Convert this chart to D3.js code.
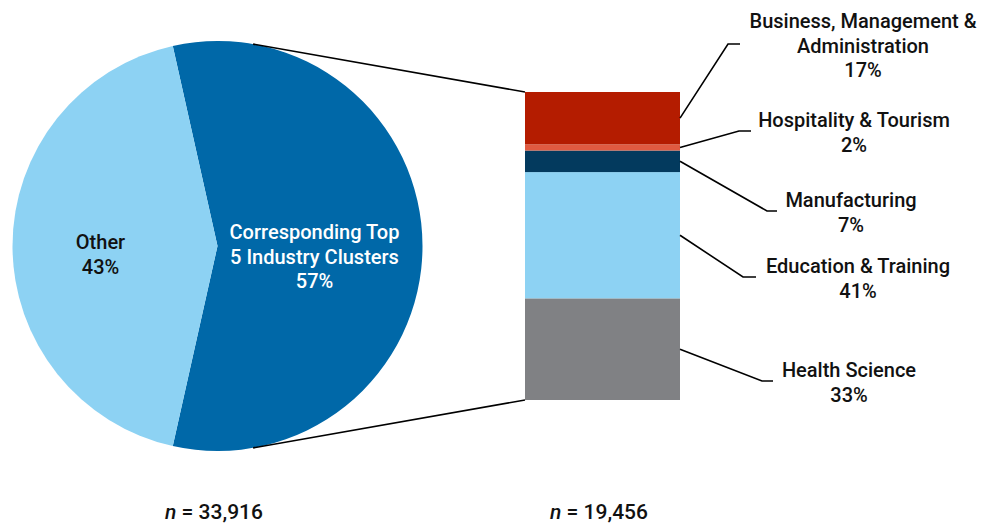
<!DOCTYPE html>
<html>
<head>
<meta charset="utf-8">
<script src="https://cdn.jsdelivr.net/npm/d3@7"></script>
<style>
  html, body { margin: 0; padding: 0; background: #fff; }
  svg { display: block; }
  text { font-family: "Roboto", "Liberation Sans", sans-serif; font-size: 20px; font-weight: 500; fill: #111; }
</style>
</head>
<body>
<svg id="chart" width="985" height="525"></svg>
<script>
// Overall split of enrollments
const pieCategories = ["Corresponding Top 5 Industry Clusters", "Other"];
const pieLabelLines = [["Corresponding Top", "5 Industry Clusters"], ["Other"]];
const pieValues = [57, 43];
const pieColors = ["#0068a8", "#8dd2f3"];

// Breakdown of the top 5 clusters, stacked from the bottom up
const barCategories = ["Health Science", "Education & Training", "Manufacturing", "Hospitality & Tourism", "Business, Management & Administration"];
const barLabelLines = [["Health Science"], ["Education & Training"], ["Manufacturing"], ["Hospitality & Tourism"], ["Business, Management &", "Administration"]];
const barValues = [33, 41, 7, 2, 17];
const barColors = ["#808184", "#8dd2f3", "#033a5e", "#e05a40", "#b41c00"];

const sampleLabels = ["33,916", "19,456"];

const svg = d3.select("#chart");

// ---- pie ----
const cx = 217.5, cy = 246, r = 205;
const half = Math.PI * pieValues[0] / 100;            // half-angle of the top-5 slice
const pie = d3.pie().sort(null)
  .startAngle(Math.PI / 2 - half)
  .endAngle(Math.PI / 2 - half + 2 * Math.PI);
const arcs = pie(pieValues);
const arc = d3.arc().innerRadius(0).outerRadius(r);

const pg = svg.append("g").attr("transform", `translate(${cx},${cy})`);
pg.selectAll("path").data(arcs).join("path")
  .attr("d", arc)
  .attr("fill", (d, i) => pieColors[i]);

// slice labels
const pieLabelPos = [[97, -7], [-117, 3]];
arcs.forEach((d, i) => {
  const lines = [...pieLabelLines[i], d.data + "%"];
  const t = pg.append("text")
    .attr("text-anchor", "middle")
    .attr("x", pieLabelPos[i][0])
    .attr("y", pieLabelPos[i][1])
    .style("fill", i === 0 ? "#fff" : "#111");
  lines.forEach((s, k) => t.append("tspan").attr("x", pieLabelPos[i][0]).attr("dy", k === 0 ? 0 : 24.5).text(s));
});

// ---- stacked bar ----
const x = d3.scaleBand().domain(["top5"]).range([525, 680]).padding(0);
const y = d3.scaleLinear().domain([0, 100]).range([400, 92]);
const stackData = [];
let acc = 0;
barValues.forEach((v, i) => { stackData.push({ cat: barCategories[i], v, y0: acc, y1: acc + v, i }); acc += v; });

svg.append("g").selectAll("rect").data(stackData).join("rect")
  .attr("x", x("top5"))
  .attr("width", x.bandwidth())
  .attr("y", d => y(d.y1))
  .attr("height", d => y(d.y0) - y(d.y1))
  .attr("fill", d => barColors[d.i]);

// ---- connectors from the top-5 slice to the bar ----
const connAngle = 10 * Math.PI / 180;
const pTop = [cx + r * Math.sin(connAngle), cy - r * Math.cos(connAngle)];
const pBot = [cx + r * Math.sin(Math.PI - connAngle), cy - r * Math.cos(Math.PI - connAngle)];
const conn = svg.append("g").attr("stroke", "#000").attr("stroke-width", 1.6).attr("fill", "none");
conn.append("line").attr("x1", pTop[0]).attr("y1", pTop[1]).attr("x2", x("top5")).attr("y2", y(100));
conn.append("line").attr("x1", pBot[0]).attr("y1", pBot[1]).attr("x2", x("top5")).attr("y2", y(0));

// ---- segment labels with leader lines ----
// elbow point, end of horizontal stub, label centre x, first baseline
const labelLayout = [
  { elbow: [762, 381], end: [773, 381], tx: 849, ty: 377 },
  { elbow: [743, 277], end: [756, 277], tx: 858, ty: 273 },
  { elbow: [767, 211], end: [777, 211], tx: 851, ty: 207 },
  { elbow: [739, 131], end: [751, 131], tx: 854, ty: 127 },
  { elbow: [728, 44],  end: [740, 44],  tx: 863, ty: 28 }
];
const lg = svg.append("g");
stackData.forEach((d, i) => {
  const L = labelLayout[i];
  const x0 = x("top5") + x.bandwidth();
  const ym = y((d.y0 + d.y1) / 2);
  lg.append("polyline")
    .attr("points", [[x0, ym], L.elbow, L.end].map(p => p.join(",")).join(" "))
    .attr("fill", "none").attr("stroke", "#000").attr("stroke-width", 1.6);
  const lines = [...barLabelLines[i], d.v + "%"];
  const t = lg.append("text").attr("text-anchor", "middle").attr("x", L.tx).attr("y", L.ty);
  lines.forEach((s, k) => t.append("tspan").attr("x", L.tx).attr("dy", k === 0 ? 0 : 24.5).text(s));
});

// ---- sample sizes ----
const nX = [214, 599];
sampleLabels.forEach((s, i) => {
  const t = svg.append("text").attr("text-anchor", "middle").attr("x", nX[i]).attr("y", 519)
    .style("font-size", "21px");
  t.append("tspan").style("font-style", "italic").text("n");
  t.append("tspan").text(" = " + s);
});
</script>
</body>
</html>
